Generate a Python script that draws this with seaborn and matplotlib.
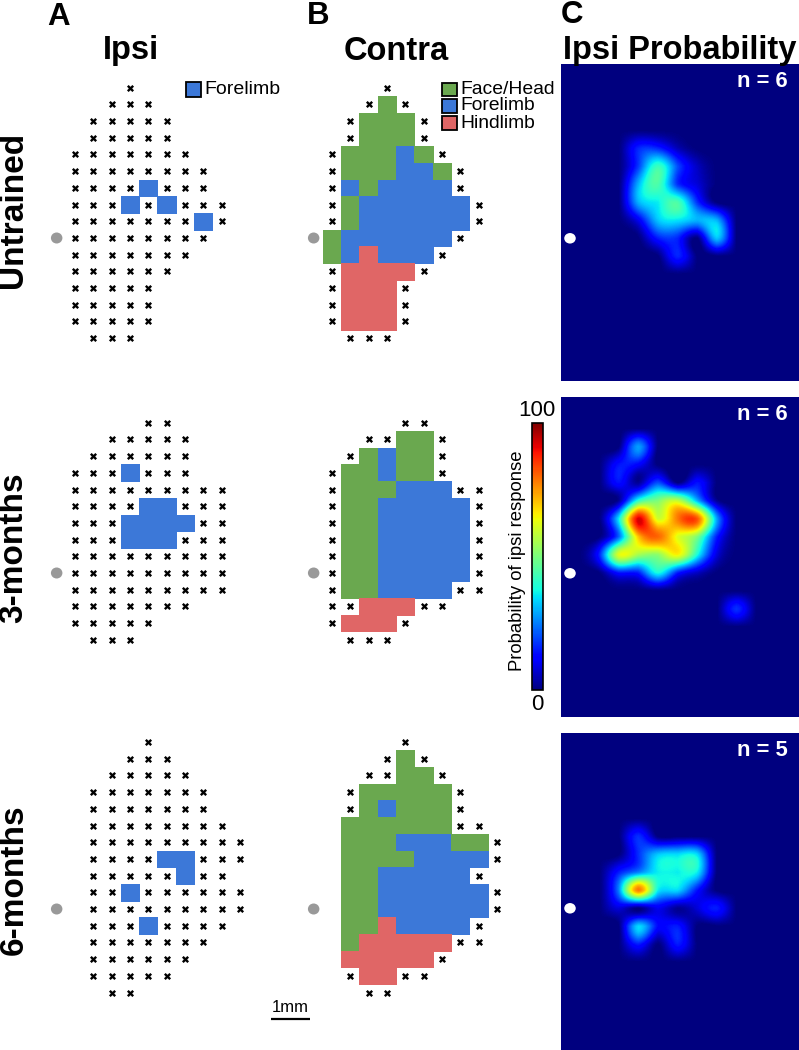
import numpy as np
import matplotlib
matplotlib.use("Agg")
import matplotlib.pyplot as plt
from matplotlib.colors import ListedColormap
from matplotlib.patches import Ellipse, Rectangle
import seaborn as sns

sns.set_style("white")
plt.rcParams['font.family'] = ['Liberation Sans', 'DejaVu Sans']
plt.rcParams['text.color'] = 'black'

W, H = 799, 1050
TIMEPOINTS = ["Untrained", "3-months", "6-months"]
COLUMN_TITLES = ["Ipsi", "Contra", "Ipsi Probability"]
PANEL_LETTERS = ["A", "B", "C"]
N_LABELS = ["n = 6", "n = 6", "n = 5"]
ZONES = ["Face/Head", "Forelimb", "Hindlimb"]
ZONE_COLORS = ["#6AA84F", "#3C78D8", "#E06666"]

# x = tested site without response, G/F/H = motor response zone
IPSI_UNTRAINED = [
    "...x", "..xxx", ".xxxxx", ".xxxxx", "xxxxxxx", "xxxxxxxx",
    "xxxxFxxx", "xxxFxFxxx", "xxxxxxxFx", "xxxxxxxx", "xxxxxxx", "xxxxxx",
    "xxxxx", "xxxxx", "xxxxx", ".xxx",
]
CONTRA_UNTRAINED = [
    "...x", "..xGx", ".xGGGx", ".xGGGx", "xGGGFGx", "xGGGFFGx",
    "xFGFFFFx", "xGFFFFFFx", "xGFFFFFFx", "GFFFFFFx", "GFHFFFx", "xHHHHx",
    "xHHHx", "xHHHx", "xHHHx", ".xxx",
]
IPSI_3M = [
    "....xx", "..xxxxx", ".xxxxxx", "xxxFxxx", "xxxxxxxxx", "xxxxFFxxx",
    "xxxFFFFxx", "xxxFFFxxx", "xxxxxxxxx", "xxxxxxxxx", "xxxxxxxxx", "xxxxxxx",
    "xxxxx", ".xxx",
]
CONTRA_3M = [
    "....xx", "..xxGGx", ".xGFGGx", "xGGFGGx", "xGGGFFFxx", "xGGFFFFFx",
    "xGGFFFFFx", "xGGFFFFFx", "xGGFFFFFx", "xGGFFFFFx", "xGGFFFFxx", "xxHHHxx",
    "xHHHx", ".xxx",
]
IPSI_6M = [
    "....x", "...xxx", "..xxxxx", ".xxxxxxx", ".xxxxxxx", ".xxxxxxxx",
    ".xxxxxxxxx", ".xxxxFFxxx", ".xxxxxFxx", ".xxFxxxxxx", ".xxxxxxxxx", ".xxxFxxxx",
    ".xxxxxxx", ".xxxxxx", ".xxxxx", "..xx",
]
CONTRA_6M = [
    "....x", "...xGx", "..xxGGx", ".xGGGGGx", ".xGFGGGx", ".GGGGGGxx",
    ".GGGFFFGGx", ".GGGGFFFFx", ".GGFFFFFx", ".GGFFFFFFx", ".GGFFFFFFx", ".GGHFFFFx",
    ".GHHHHHxx", ".HHHHHx", ".xHHxx", "..xx",
]
ALL_MAPS = [[IPSI_UNTRAINED, CONTRA_UNTRAINED], [IPSI_3M, CONTRA_3M], [IPSI_6M, CONTRA_6M]]
STIM_ROWS = [9, 9, 10]

# response probability (%) on the coarse map grid; rows run top to bottom, stim row marked by offset
PROB_UNTRAINED = [
    [0, 0, 0, 16, 16, 5, 0, 0, 0],
    [0, 0, 0, 18, 42, 20, 6, 0, 0],
    [0, 0, 0, 30, 44, 17, 8, 0, 0],
    [0, 0, 0, 30, 36, 44, 17, 0, 0],
    [0, 0, 0, 10, 32, 35, 30, 30, 0],
    [0, 0, 0, 0, 15, 16, 0, 32, 0],
    [0, 0, 0, 0, 0, 16, 0, 0, 0],
]
PROB_3M = [
    [0, 0, 0, 28, 0, 0, 0, 0, 0],
    [0, 0, 14, 12, 0, 0, 0, 0, 0],
    [0, 0, 14, 2, 20, 0, 14, 0, 0],
    [0, 0, 2, 40, 50, 58, 30, 2, 0],
    [0, 0, 35, 92, 60, 78, 82, 28, 0],
    [0, 0, 22, 70, 80, 62, 50, 15, 0],
    [0, 15, 62, 55, 52, 65, 38, 8, 0],
    [0, 0, 14, 15, 38, 15, 6, 0, 0],
    [0, 0, 0, 0, 0, 0, 0, 0, 0],
    [0, 0, 0, 0, 0, 0, 0, 0, 17],
]
PROB_6M = [
    [0, 0, 0, 17, 0, 0, 0, 0, 0],
    [0, 0, 0, 17, 32, 34, 34, 0, 0],
    [0, 0, 15, 25, 36, 36, 36, 0, 0],
    [0, 0, 25, 78, 36, 34, 14, 0, 0],
    [0, 0, 8, 0, 10, 2, 8, 15, 0],
    [0, 0, 0, 34, 13, 15, 0, 0, 0],
    [0, 0, 0, 15, 0, 15, 0, 0, 0],
]
ALL_PROB = [PROB_UNTRAINED, PROB_3M, PROB_6M]
PROB_TOP_OFFSET = [-5, -7, -4]  # rows above the stimulation site of the first listed row

fig = plt.figure(figsize=(W / 100, H / 100), dpi=100)


def px_axes(l, t, r, b, **kw):
    return fig.add_axes([l / W, 1 - b / H, (r - l) / W, (b - t) / H], **kw)


CW, CH = 18.33, 16.7
MAP_LEFT = [65.83, 322.83]
MAP_TOP = [79.35, 414.35, 733.65]
PROB_BOX = [(561, 64, 799, 381), (561, 397, 799, 717), (561, 733, 799, 1050)]
STIM_Y = [238.3, 573.3, 908.3]
cat_cmap = ListedColormap(ZONE_COLORS)
code = {"G": 0, "F": 1, "H": 2}

for i, maps in enumerate(ALL_MAPS):
    for j, rows in enumerate(maps):
        ncol = 10
        rows = [r.ljust(ncol, ".") for r in rows]
        nrow = len(rows)
        mat = np.array([[code.get(c, np.nan) for c in r] for r in rows], dtype=float)
        ax = px_axes(MAP_LEFT[j], MAP_TOP[i], MAP_LEFT[j] + ncol * CW, MAP_TOP[i] + nrow * CH)
        sns.heatmap(mat, mask=np.isnan(mat), cmap=cat_cmap, vmin=0, vmax=2, cbar=False,
                    xticklabels=False, yticklabels=False, linewidths=0.5, linecolor="face", ax=ax)
        ys, xs = np.where(np.array([list(r) for r in rows]) == "x")
        sns.scatterplot(x=xs + 0.5, y=ys + 0.5, marker="x", color="black", s=15, linewidth=1.7,
                        ax=ax, legend=False, clip_on=False)
        ax.add_patch(Ellipse((-0.5, STIM_ROWS[i] + 0.5), 11.5 / CW, 11 / CH, color="#999999",
                             clip_on=False, lw=0))
        ax.set_xlim(0, ncol)
        ax.set_ylim(nrow, 0)
        ax.axis("off")

mesh = None
PW, PH = 19.67, 18.0
for i, grid in enumerate(ALL_PROB):
    l, t, r, b = PROB_BOX[i]
    ax = px_axes(l, t, r, b)
    top_off = PROB_TOP_OFFSET[i]
    arr = np.array(grid, dtype=float)
    rows_above = 12 + top_off
    rows_below = 24 - rows_above - arr.shape[0]
    full = np.pad(arr, ((rows_above, rows_below), (2, 6)))
    x0 = 579.3 - 2.5 * PW
    x1 = x0 + full.shape[1] * PW
    y0 = STIM_Y[i] - 12.5 * PH
    y1 = y0 + full.shape[0] * PH
    mesh = ax.imshow(full, cmap="jet", vmin=0, vmax=100, extent=(x0, x1, y1, y0),
                     interpolation="spline16", aspect="auto")
    ax.add_patch(Ellipse((570, STIM_Y[i]), 11.5, 10.5, color="white", lw=0))
    ax.set_xlim(l, r)
    ax.set_ylim(b, t)
    ax.set_xticks([])
    ax.set_yticks([])
    for s in ax.spines.values():
        s.set_visible(False)
    ax.text(762.5, t + 17.5, N_LABELS[i], color="white", fontweight="bold", fontsize=15.8,
            ha="center", va="center")

cax = px_axes(532, 422.5, 543, 690)
cb = fig.colorbar(mesh, cax=cax)
cb.set_ticks([])
cb.outline.set_linewidth(1.2)
cb.outline.set_edgecolor("black")

over = fig.add_axes([0, 0, 1, 1], facecolor="none")
over.set_xlim(0, W)
over.set_ylim(H, 0)
over.axis("off")

for x, y, s in zip([59, 318, 572], [17, 15.5, 15], PANEL_LETTERS):
    over.text(x, y, s, fontsize=22.5, fontweight="bold", ha="center", va="center")
for x, s in zip([131, 396, 680], COLUMN_TITLES):
    over.text(x, 51, s, fontsize=23.5, fontweight="bold", ha="center", va="center")
for y, s in zip([210, 548, 880], TIMEPOINTS):
    over.text(14, y, s, fontsize=24, fontweight="bold", rotation=90, ha="center", va="center")

over.add_patch(Rectangle((185.5, 82), 15, 14.5, fc=ZONE_COLORS[1], ec="black", lw=1.3))
over.text(204, 89, ZONES[1], fontsize=14, ha="left", va="center")
for y, name, col in zip([82.5, 99, 116], ZONES, ZONE_COLORS):
    over.add_patch(Rectangle((442, y), 14.5, 13.5, fc=col, ec="black", lw=1.3))
    over.text(460, y + 7, name, fontsize=13.9, ha="left", va="center")

over.text(536.5, 410, "100", fontsize=16, ha="center", va="center")
over.text(537, 704, "0", fontsize=16, ha="center", va="center")
over.text(517, 560.5, "Probability of ipsi response", fontsize=13.3, rotation=90, ha="center", va="center")
over.text(290, 1008, "1mm", fontsize=12, ha="center", va="center")
over.plot([271, 310], [1019, 1019], color="black", lw=1.6, solid_capstyle="butt")

fig.savefig("out.png", dpi=100)
